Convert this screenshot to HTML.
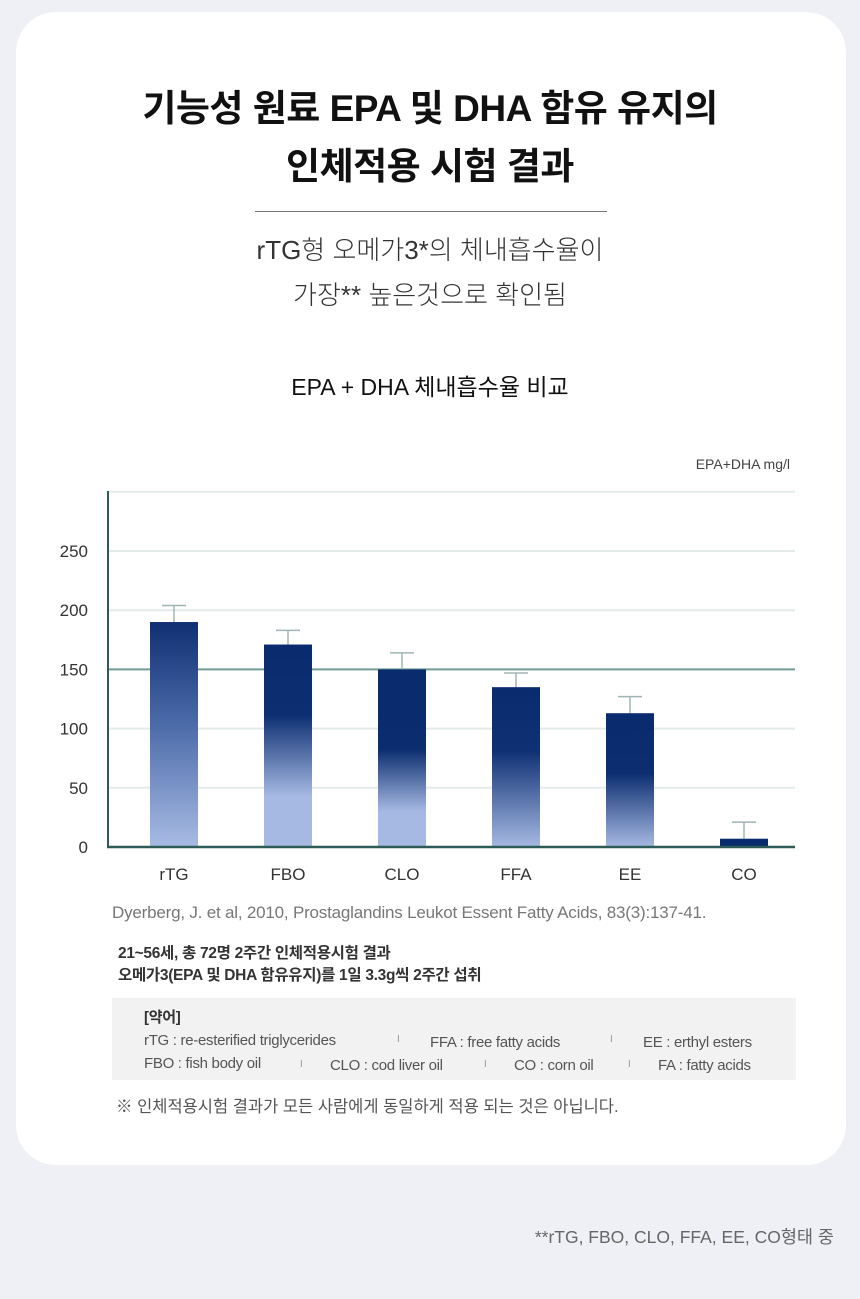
<!DOCTYPE html>
<html><head><meta charset="utf-8">
<style>
body{margin:0;width:860px;height:1299px;background:#eef0f5;position:relative;font-family:"Liberation Sans","Noto Sans CJK KR",sans-serif;overflow:hidden}
.abs{position:absolute}
.card{left:16px;top:12px;width:830px;height:1153px;background:#fff;border-radius:40px}
.c{left:0;width:860px;text-align:center}
</style></head><body>
<div class="abs card"></div>
<div class="abs c" style="top:78px;font-size:37px;font-weight:bold;color:#111;letter-spacing:-0.5px">기능성 원료 EPA 및 DHA 함유 유지의</div>
<div class="abs c" style="top:136px;font-size:37px;font-weight:bold;color:#111;letter-spacing:-0.5px">인체적용 시험 결과</div>
<div class="abs" style="left:255px;top:211px;width:352px;height:1px;background:#777"></div>
<div class="abs c" style="top:230px;font-size:26px;color:#333;font-weight:300">rTG형 오메가3*의 체내흡수율이</div>
<div class="abs c" style="top:275px;font-size:26px;color:#333;font-weight:300">가장** 높은것으로 확인됨</div>
<div class="abs c" style="top:368px;font-size:23px;color:#111">EPA + DHA 체내흡수율 비교</div>
<svg class="abs" style="left:0;top:0" width="860" height="900">
<defs>
<linearGradient id="g0" x1="0" y1="0" x2="0" y2="1"><stop offset="0" stop-color="#0f2f72"/><stop offset="0.45" stop-color="#4a6aa8"/><stop offset="1" stop-color="#a8bbe4"/></linearGradient>
<linearGradient id="g1" x1="0" y1="0" x2="0" y2="1"><stop offset="0" stop-color="#0a2c6e"/><stop offset="0.35" stop-color="#0d2f72"/><stop offset="0.75" stop-color="#a6b9e2"/><stop offset="1" stop-color="#a6b9e2"/></linearGradient>
<linearGradient id="g2" x1="0" y1="0" x2="0" y2="1"><stop offset="0" stop-color="#0a2c6e"/><stop offset="0.45" stop-color="#0b2d6f"/><stop offset="0.8" stop-color="#a6b9e2"/><stop offset="1" stop-color="#a6b9e2"/></linearGradient>
<linearGradient id="g3" x1="0" y1="0" x2="0" y2="1"><stop offset="0" stop-color="#0a2c6e"/><stop offset="0.4" stop-color="#0f3174"/><stop offset="1" stop-color="#a6b9e2"/></linearGradient>
<linearGradient id="g4" x1="0" y1="0" x2="0" y2="1"><stop offset="0" stop-color="#0a2c6e"/><stop offset="0.45" stop-color="#0c2e70"/><stop offset="1" stop-color="#a6b9e2"/></linearGradient>
<linearGradient id="g5" x1="0" y1="0" x2="0" y2="1"><stop offset="0" stop-color="#0a2c6e"/><stop offset="1" stop-color="#0a2c6e"/></linearGradient>
</defs>
<g id="grid"></g><g id="bars"></g><g id="labels"></g>
<text x="790" y="469" text-anchor="end" font-size="14" fill="#444">EPA+DHA mg/l</text>
</svg>
<div class="abs" style="left:112px;top:903px;font-size:17px;color:#777;letter-spacing:-0.2px">Dyerberg, J. et al, 2010, Prostaglandins Leukot Essent Fatty Acids, 83(3):137-41.</div>
<div class="abs" style="left:118px;top:943px;font-size:15.5px;color:#333;line-height:22px;font-weight:bold;letter-spacing:-0.3px">21~56세, 총 72명 2주간 인체적용시험 결과<br>오메가3(EPA 및 DHA 함유유지)를 1일 3.3g씩 2주간 섭취</div>
<div class="abs" style="left:112px;top:998px;width:684px;height:82px;background:#f2f2f3;font-size:15px;color:#555;letter-spacing:-0.3px">
<div class="abs" style="left:32px;top:8px;color:#333;font-weight:bold">[약어]</div>
<div class="abs" style="left:32px;top:34px">rTG : re-esterified triglycerides</div>
<div class="abs" style="left:285px;top:36px;font-size:10px;color:#999">I</div>
<div class="abs" style="left:318px;top:36px">FFA : free fatty acids</div>
<div class="abs" style="left:498px;top:36px;font-size:10px;color:#999">I</div>
<div class="abs" style="left:531px;top:36px">EE : erthyl esters</div>
<div class="abs" style="left:32px;top:57px">FBO : fish body oil</div>
<div class="abs" style="left:188px;top:61px;font-size:10px;color:#999">I</div>
<div class="abs" style="left:218px;top:59px">CLO : cod liver oil</div>
<div class="abs" style="left:372px;top:61px;font-size:10px;color:#999">I</div>
<div class="abs" style="left:402px;top:59px">CO : corn oil</div>
<div class="abs" style="left:516px;top:61px;font-size:10px;color:#999">I</div>
<div class="abs" style="left:546px;top:59px">FA : fatty acids</div>
</div>
<div class="abs" style="left:116px;top:1093px;font-size:16.5px;color:#555">※ 인체적용시험 결과가 모든 사람에게 동일하게 적용 되는 것은 아닙니다.</div>
<div class="abs" style="right:26px;top:1224px;font-size:17.5px;color:#666">**rTG, FBO, CLO, FFA, EE, CO형태 중</div>
<script>
const categories=["rTG","FBO","CLO","FFA","EE","CO"];
const values=[190,171,150,135,113,7];
const errorTops=[204,183,164,147,127,21];
const yTicks=[0,50,100,150,200,250];
const NS="http://www.w3.org/2000/svg";
const x0=108,x1=795,y0=847,pxPer=296/250,band=114,barW=48,firstC=174;
function y(v){return y0-v*pxPer;}
function xc(i){return firstC+i*band;}
function mk(t,a,p){const e=document.createElementNS(NS,t);for(const k in a)e.setAttribute(k,a[k]);p.appendChild(e);return e;}
const grid=document.getElementById('grid'),bars=document.getElementById('bars'),labels=document.getElementById('labels');
[50,100,200,250,300].forEach(v=>{const l=mk('line',{x1:x0,x2:x1,y1:y(v),y2:y(v),stroke:'#e2ebea','stroke-width':2},grid);

});
const ref=mk('line',{x1:x0,x2:x1,y1:y(150),y2:y(150),stroke:'#6f9c96','stroke-width':2},grid);


yTicks.forEach(v=>{const t=mk('text',{x:88,y:y(v)+6,'text-anchor':'end','font-size':17,fill:'#333'},labels);t.textContent=v;

});
categories.forEach((c,i)=>{
const cx=xc(i);
const e=mk('g',{},bars);


mk('line',{x1:cx,x2:cx,y1:y(errorTops[i]),y2:y(values[i]),stroke:'#9fb5b3','stroke-width':1.5},e);
mk('line',{x1:cx-12,x2:cx+12,y1:y(errorTops[i]),y2:y(errorTops[i]),stroke:'#9fb5b3','stroke-width':1.5},e);
const r=mk('rect',{x:cx-barW/2,y:y(values[i]),width:barW,height:values[i]*pxPer,fill:'url(#g'+i+')'},bars);


const t=mk('text',{x:cx,y:880,'text-anchor':'middle','font-size':17,fill:'#333'},labels);t.textContent=c;


});
const ya=mk('line',{x1:x0,x2:x0,y1:491,y2:y0+1,stroke:'#2d5b55','stroke-width':2},labels);


const xa=mk('line',{x1:x0-1,x2:x1,y1:y0,y2:y0,stroke:'#2d5b55','stroke-width':2.5},labels);


</script>
</body></html>
